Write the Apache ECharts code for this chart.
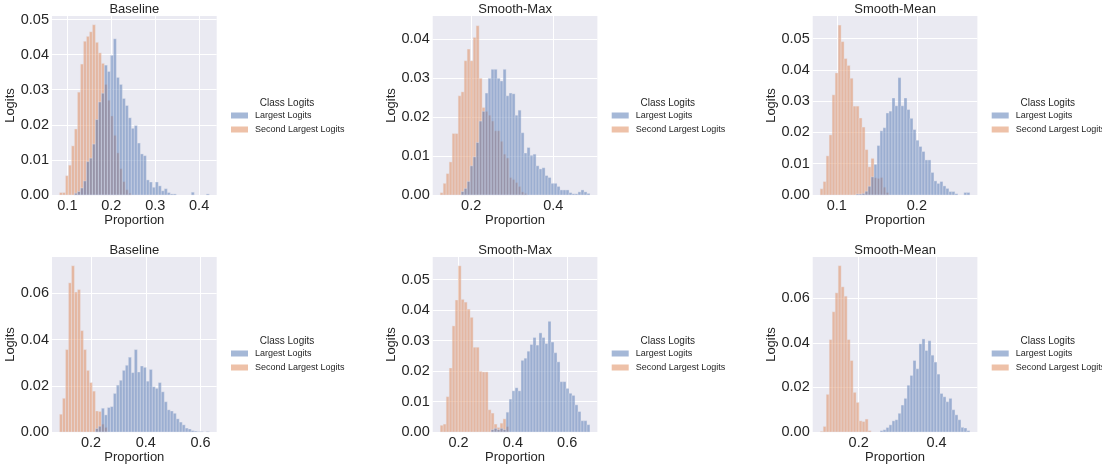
<!DOCTYPE html>
<html>
<head>
<meta charset="utf-8">
<title>Class Logits histograms</title>
<script src="https://cdn.jsdelivr.net/npm/echarts@6.0.0/dist/echarts.min.js"></script>
<style>
  html, body { margin: 0; padding: 0; background: #ffffff; }
  #chart { width: 1102px; height: 465px; }
</style>
</head>
<body>
<div id="chart"></div>
<script>
// panels: top row then bottom row, left to right
const panelTitles = ['Baseline', 'Smooth-Max', 'Smooth-Mean', 'Baseline', 'Smooth-Max', 'Smooth-Mean'];
const seriesNames = ['Largest Logits', 'Second Largest Logits'];

// 50 shared bins per panel: left edge of the first bin and the bin width
const binStart = [0.082, 0.1245, 0.0792, 0.0844, 0.1323, 0.1013];
const binWidth = [0.00682, 0.0073, 0.00374, 0.01095, 0.01103, 0.00769];

// probability per bin
const baselineTopLargest = [
  0, 0, 0, 0, 0, 0.0005, 0.001, 0.002, 0.004, 0.0095,
  0.0105, 0.0145, 0.0215, 0.0265, 0.029, 0.037, 0.0352, 0.0398, 0.0445, 0.0335,
  0.0315, 0.0275, 0.0255, 0.022, 0.019, 0.0198, 0.0148, 0.0117, 0.0112, 0.0043,
  0.0037, 0.0022, 0.0037, 0.0026, 0.0012, 0.0018, 0.0007, 0.0003, 0.0003, 0,
  0, 0, 0, 0, 0.0008, 0, 0, 0, 0, 0.0003
];
const baselineTopSecond = [
  0.0007, 0.0007, 0.0055, 0.0085, 0.014, 0.0188, 0.0293, 0.0373, 0.0438, 0.0452,
  0.0465, 0.0485, 0.0435, 0.0405, 0.0375, 0.0315, 0.027, 0.0225, 0.017, 0.012,
  0.0075, 0.0038, 0.0015, 0.0005
];
const smoothMaxTopLargest = [
  0, 0, 0, 0, 0, 0, 0, 0.0009, 0.0017, 0.0035,
  0.0075, 0.0098, 0.0135, 0.019, 0.0215, 0.0262, 0.030, 0.0323, 0.0323, 0.030,
  0.0293, 0.0323, 0.0255, 0.0262, 0.026, 0.0205, 0.0218, 0.016, 0.0108, 0.0122,
  0.0102, 0.0105, 0.0075, 0.0067, 0.007, 0.005, 0.0045, 0.003, 0.003, 0.0022,
  0.0013, 0.0013, 0.0013, 0.0006, 0.0003, 0.0003, 0.0008, 0.0013, 0.0008, 0.0004
];
const smoothMaxTopSecond = [
  0.0006, 0.003, 0.0055, 0.0085, 0.0158, 0.0158, 0.0255, 0.0265, 0.0345, 0.0375,
  0.0345, 0.0405, 0.0435, 0.030, 0.0225, 0.0215, 0.0205, 0.019, 0.0165, 0.0165,
  0.0138, 0.0105, 0.0095, 0.0045, 0.004, 0.0032, 0.0022, 0.0008, 0.0004
];
const smoothMeanTopLargest = [
  0, 0, 0, 0, 0, 0, 0, 0, 0, 0,
  0, 0, 0.0003, 0.0003, 0.0005, 0.0012, 0.0028, 0.0058, 0.0098, 0.0158,
  0.0205, 0.0215, 0.0262, 0.0268, 0.031, 0.0285, 0.0375, 0.0285, 0.031, 0.0273,
  0.0245, 0.0209, 0.0175, 0.0155, 0.0139, 0.0112, 0.0112, 0.0072, 0.0045, 0.0037,
  0.0043, 0.0029, 0.0021, 0.0011, 0.0011, 0.0004, 0, 0, 0.0008, 0.0008
];
const smoothMeanTopSecond = [
  0.002, 0.0043, 0.0125, 0.0192, 0.032, 0.039, 0.0543, 0.049, 0.0436, 0.0414,
  0.0373, 0.0284, 0.0284, 0.0246, 0.0217, 0.0145, 0.009, 0.0117, 0.0055, 0.0053,
  0.0056, 0.0025, 0.0008
];
const baselineBottomLargest = [
  0, 0, 0, 0, 0, 0, 0, 0, 0, 0,
  0, 0, 0.0015, 0.0025, 0.0103, 0.0074, 0.0106, 0.011, 0.0167, 0.0203,
  0.0224, 0.0267, 0.0289, 0.0324, 0.0257, 0.0357, 0.026, 0.0286, 0.028, 0.022,
  0.0271, 0.0196, 0.0189, 0.0214, 0.0174, 0.0131, 0.0096, 0.0091, 0.0081, 0.0057,
  0.0043, 0.0031, 0.0017, 0.0013, 0.0006, 0.0004, 0.0002, 0.0002, 0, 0.0002
];
const baselineBottomSecond = [
  0.0077, 0.0146, 0.0357, 0.0646, 0.072, 0.0606, 0.0617, 0.0439, 0.0357, 0.0267,
  0.0214, 0.0177, 0.0091, 0.0089, 0.0034, 0.002
];
const smoothMaxBottomLargest = [
  0, 0, 0, 0, 0, 0, 0, 0, 0, 0,
  0, 0, 0, 0, 0, 0, 0, 0.0008, 0.0012, 0.0008,
  0.0012, 0.0008, 0.0065, 0.0108, 0.0135, 0.0145, 0.0135, 0.0235, 0.0242, 0.0265,
  0.0287, 0.031, 0.0285, 0.0325, 0.031, 0.029, 0.0363, 0.0295, 0.026, 0.023,
  0.0165, 0.0165, 0.0143, 0.0127, 0.012, 0.0089, 0.0067, 0.0037, 0.0037, 0.0024
];
const smoothMaxBottomSecond = [
  0.0022, 0.0026, 0.0116, 0.021, 0.0348, 0.0433, 0.0545, 0.0435, 0.0426, 0.0403,
  0.0376, 0.0278, 0.0278, 0.0199, 0.0197, 0.0197, 0.0073, 0.0062, 0.0026, 0.0015,
  0.0029, 0.0043, 0.0018
];
const smoothMeanBottomLargest = [
  0, 0, 0, 0, 0, 0, 0, 0, 0, 0,
  0, 0, 0, 0, 0, 0, 0, 0, 0, 0,
  0.0006, 0.001, 0.002, 0.0032, 0.005, 0.0055, 0.0084, 0.0121, 0.0151, 0.021,
  0.0254, 0.0321, 0.0284, 0.0396, 0.0418, 0.0366, 0.041, 0.0345, 0.0314, 0.026,
  0.0173, 0.0158, 0.0136, 0.0151, 0.01, 0.0077, 0.0055, 0.0021, 0.0018, 0.0006
];
const smoothMeanBottomSecond = [
  0.0003, 0.0025, 0.0169, 0.0415, 0.054, 0.0625, 0.0747, 0.0652, 0.061, 0.0415,
  0.0321, 0.0178, 0.0133, 0.005, 0.0047, 0.0058, 0.0006
];

// axis ranges and tick labels
const xMin = [0.065, 0.1063, 0.0699, 0.057, 0.1047, 0.082];
const xMax = [0.44, 0.5075, 0.2756, 0.6594, 0.7113, 0.505];
const yMax = [0.051, 0.046, 0.0572, 0.0758, 0.0574, 0.0786];
const xTicks = [
  [0.1, 0.2, 0.3, 0.4], [0.2, 0.4], [0.1, 0.2],
  [0.2, 0.4, 0.6], [0.2, 0.4, 0.6], [0.2, 0.4]
];
const yTicks = [
  [0, 0.01, 0.02, 0.03, 0.04, 0.05], [0, 0.01, 0.02, 0.03, 0.04], [0, 0.01, 0.02, 0.03, 0.04, 0.05],
  [0, 0.02, 0.04, 0.06], [0, 0.01, 0.02, 0.03, 0.04, 0.05], [0, 0.02, 0.04, 0.06]
];

const largestLogits = [baselineTopLargest, smoothMaxTopLargest, smoothMeanTopLargest,
  baselineBottomLargest, smoothMaxBottomLargest, smoothMeanBottomLargest];
const secondLogits = [baselineTopSecond, smoothMaxTopSecond, smoothMeanTopSecond,
  baselineBottomSecond, smoothMaxBottomSecond, smoothMeanBottomSecond];

// layout
const FONT = "'Liberation Sans', Arial, sans-serif";
const TEXT = '#262626';
const BLUE = 'rgba(76, 114, 176, 0.5)';
const ORANGE = 'rgba(221, 132, 82, 0.5)';
const colLeft = [52, 432.7, 812.7];
const plotWidth = 164.7;
const rowTop = [16, 257];
const rowHeight = [179, 177];
const legendShift = [0, 238];

function toBins(values, p) {
  const out = [];
  values.forEach((v, k) => {
    if (v > 0) out.push([binStart[p] + k * binWidth[p], binStart[p] + (k + 1) * binWidth[p], v]);
  });
  return out;
}

function renderBin(params, api) {
  const a = api.coord([api.value(0), api.value(2)]);
  const b = api.coord([api.value(1), 0]);
  return {
    type: 'rect',
    shape: { x: a[0], y: a[1], width: b[0] - a[0], height: b[1] - a[1] },
    style: { fill: api.visual('color'), stroke: 'rgba(234,234,242,0.75)', lineWidth: 0.5 }
  };
}

const grids = [], xAxes = [], yAxes = [], series = [], legends = [], texts = [];

for (let p = 0; p < 6; p++) {
  const col = p % 3, row = Math.floor(p / 3);
  grids.push({
    left: colLeft[col], top: rowTop[row], width: plotWidth, height: rowHeight[row],
    show: true, backgroundColor: '#eaeaf2', borderWidth: 0
  });
  xAxes.push({
    gridIndex: p, type: 'value', min: xMin[p], max: xMax[p],
    axisLine: { show: false },
    axisTick: { show: false, customValues: xTicks[p] },
    axisLabel: {
      customValues: xTicks[p], formatter: v => v.toFixed(1),
      margin: 3, fontSize: 14.5, color: TEXT, fontFamily: FONT
    },
    splitLine: { show: true, lineStyle: { color: '#ffffff', width: 1 } },
    name: 'Proportion', nameLocation: 'middle', nameGap: 19,
    nameTextStyle: { fontSize: 13, color: TEXT, fontFamily: FONT }
  });
  yAxes.push({
    gridIndex: p, type: 'value', min: 0, max: yMax[p],
    axisLine: { show: false },
    axisTick: { show: false, customValues: yTicks[p] },
    axisLabel: {
      customValues: yTicks[p], formatter: v => v.toFixed(2),
      margin: 3, fontSize: 14.5, color: TEXT, fontFamily: FONT
    },
    splitLine: { show: true, lineStyle: { color: '#ffffff', width: 1 } },
    name: 'Logits', nameLocation: 'middle', nameGap: 30,
    nameTextStyle: { fontSize: 13, color: TEXT, fontFamily: FONT }
  });
  // second largest underneath, largest drawn on top
  series.push({
    type: 'custom', name: seriesNames[1], xAxisIndex: p, yAxisIndex: p,
    itemStyle: { color: ORANGE }, renderItem: renderBin,
    encode: { x: [0, 1], y: 2 }, data: toBins(secondLogits[p], p), silent: true
  });
  series.push({
    type: 'custom', name: seriesNames[0], xAxisIndex: p, yAxisIndex: p,
    itemStyle: { color: BLUE }, renderItem: renderBin,
    encode: { x: [0, 1], y: 2 }, data: toBins(largestLogits[p], p), silent: true
  });
  legends.push({
    orient: 'vertical', left: colLeft[col] + 179, top: 110 + legendShift[row],
    padding: 0, itemGap: 3, itemWidth: 17, itemHeight: 6, icon: 'rect',
    selectedMode: false, data: seriesNames,
    textStyle: { fontSize: 9, color: TEXT, fontFamily: FONT, lineHeight: 11, padding: [0, 0, 0, 2] }
  });
  texts.push({
    type: 'text', x: colLeft[col] + plotWidth / 2, y: rowTop[row] - 7,
    style: { text: panelTitles[p], align: 'center', verticalAlign: 'middle', fill: TEXT, font: '13px ' + FONT }
  });
  texts.push({
    type: 'text', x: colLeft[col] + 235, y: 103 + legendShift[row],
    style: { text: 'Class Logits', align: 'center', verticalAlign: 'middle', fill: TEXT, font: '10px ' + FONT }
  });
}

const chart = echarts.init(document.getElementById('chart'), null, { renderer: 'canvas' });
chart.setOption({
  animation: false,
  backgroundColor: '#ffffff',
  grid: grids,
  xAxis: xAxes,
  yAxis: yAxes,
  legend: legends,
  graphic: texts,
  series: series
});
</script>
</body>
</html>
